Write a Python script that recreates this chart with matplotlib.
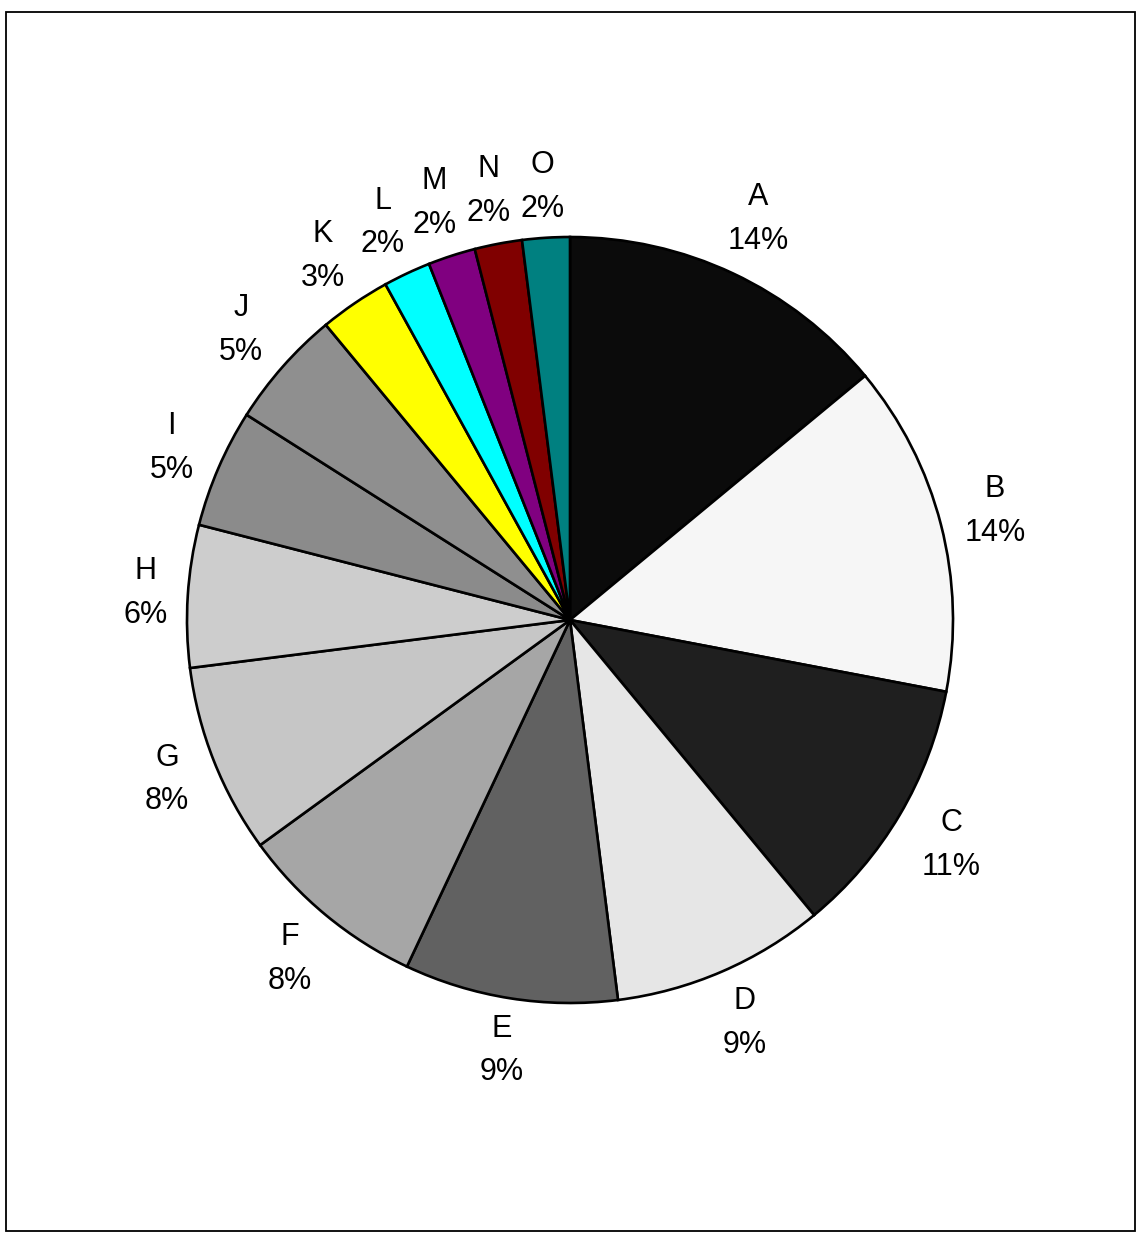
import numpy as np
import matplotlib
matplotlib.use("Agg")
import matplotlib.pyplot as plt
from matplotlib.patches import Rectangle

plt.rcParams['font.family'] = ['Liberation Sans', 'DejaVu Sans']

labels = ['A', 'B', 'C', 'D', 'E', 'F', 'G', 'H', 'I', 'J', 'K', 'L', 'M', 'N', 'O']
shares = [14, 14, 11, 9, 9, 8, 8, 6, 5, 5, 3, 2, 2, 2, 2]
colors = ['#0b0b0b', '#f6f6f6', '#1f1f1f', '#e6e6e6', '#616161', '#a6a6a6',
          '#c6c6c6', '#cdcdcd', '#8b8b8b', '#8f8f8f', '#ffff00', '#00ffff',
          '#800080', '#800000', '#008080']

W, H = 1136, 1237
cx, cy, R = 570, 620, 383  # pixel centre and radius of the pie

fig = plt.figure(figsize=(W / 100, H / 100), dpi=100)
ax = fig.add_axes([0, 0, 1, 1])

ax.pie(shares, radius=1, startangle=90, counterclock=False, colors=colors,
       wedgeprops=dict(edgecolor='black', linewidth=1.9))

# pie() resets the limits, so fix them afterwards: 1 data unit == R pixels
ax.set_xlim(-cx / R, (W - cx) / R)
ax.set_ylim(-(H - cy) / R, cy / R)
ax.set_aspect('equal')
ax.axis('off')

# outer frame
fig.patches.append(Rectangle((6 / W, (H - 1231) / H), (1135 - 6) / W, (1231 - 12) / H,
                             transform=fig.transFigure, fill=False,
                             edgecolor='black', linewidth=1.3))

# data labels, pushed outward so their box sits a fixed gap off the rim
total = float(sum(shares))
texts = []
for lab, v in zip(labels, shares):
    t = ax.text(0, 0, f'{lab}\n{v}%', ha='center', va='center',
                multialignment='center', fontsize=22, linespacing=1.6)
    texts.append(t)

renderer = fig.canvas.get_renderer()
gap = 18
cum = 0.0
for t, v in zip(texts, shares):
    mid = np.deg2rad(90 - 360 * (cum + v / 2) / total)
    cum += v
    bb = t.get_window_extent(renderer)
    w, h = bb.width, bb.height - 10
    r = R + gap + abs(np.cos(mid)) * w / 2 + abs(np.sin(mid)) * h / 2
    t.set_position((r * np.cos(mid) / R, r * np.sin(mid) / R))

fig.savefig('out.png', dpi=100)
